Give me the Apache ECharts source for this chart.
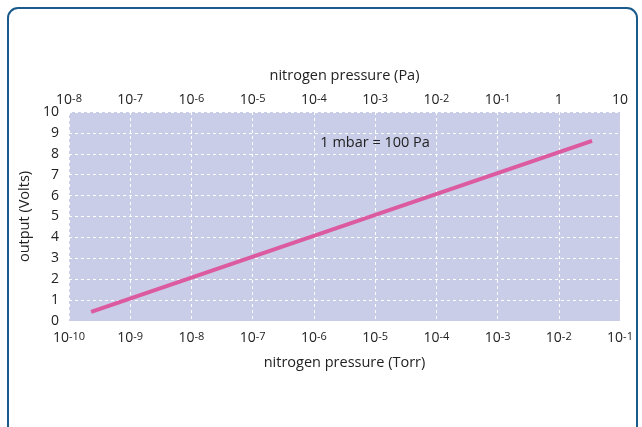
<!DOCTYPE html>
<html>
<head>
<meta charset="utf-8">
<script src="https://cdn.jsdelivr.net/npm/echarts@6/dist/echarts.min.js"></script>
<style>html,body{margin:0;padding:0;background:#fff}#c{width:642px;height:427px}</style>
</head>
<body>
<div id="c"></div>
<script>
// Data
const torrExponents = [-10, -9, -8, -7, -6, -5, -4, -3, -2, -1];
const torrTickLabels = ['10{s|-10}', '10{s|-9}', '10{s|-8}', '10{s|-7}', '10{s|-6}', '10{s|-5}', '10{s|-4}', '10{s|-3}', '10{s|-2}', '10{s|-1}'];
const paExponents = [-8, -7, -6, -5, -4, -3, -2, -1, 0, 1];
const paTickLabels = ['10{s|-8}', '10{s|-7}', '10{s|-6}', '10{s|-5}', '10{s|-4}', '10{s|-3}', '10{s|-2}', '10{s|-1}', '1', '10'];
const pressureTorr = [2.3e-10, 3.5e-2];
const outputVolts = [0.44, 8.62];
const annotationText = '1 mbar = 100 Pa';

const FONT = '"Open Sans", sans-serif';
const rich = {
  s: { fontSize: 11, fontFamily: FONT, color: '#222', verticalAlign: 'top', lineHeight: 11 }
};
function labelFor(exps, labels) {
  return function (v) {
    const e = Math.round(Math.log10(v));
    const i = exps.indexOf(e);
    return i >= 0 ? labels[i] : '';
  };
}
const nameStyle = { fontFamily: FONT, fontSize: 14.5, color: '#222' };

const chart = echarts.init(document.getElementById('c'), null, { renderer: 'canvas' });
chart.setOption({
  animation: false,
  backgroundColor: '#fff',
  grid: {
    left: 69, right: 22, top: 112, bottom: 106,
    show: true, backgroundColor: '#c9cde7', borderWidth: 0
  },
  graphic: [{
    type: 'rect', silent: true,
    shape: { x: 8, y: 8, width: 629, height: 440, r: 10 },
    style: { fill: null, stroke: '#1b5b8c', lineWidth: 2 }
  }],
  xAxis: [{
    type: 'log', logBase: 10, position: 'bottom',
    min: 1e-10, max: 1e-1, interval: 1,
    name: 'nitrogen pressure (Torr)', nameLocation: 'middle', nameGap: 34,
    nameTextStyle: nameStyle,
    axisLine: { show: false }, axisTick: { show: false },
    axisLabel: {
      margin: 10, fontFamily: FONT, fontSize: 14, color: '#222',
      formatter: labelFor(torrExponents, torrTickLabels), rich: rich,
      showMinLabel: true, showMaxLabel: true
    },
    splitLine: { show: true, lineStyle: { color: '#ffffff', type: [3, 3], width: 1 } }
  }, {
    type: 'log', logBase: 10, position: 'top',
    min: 1e-8, max: 10, interval: 1,
    name: 'nitrogen pressure (Pa)', nameLocation: 'middle', nameGap: 29,
    nameTextStyle: nameStyle,
    axisLine: { show: false }, axisTick: { show: false },
    axisLabel: {
      margin: 5, fontFamily: FONT, fontSize: 14, color: '#222',
      formatter: labelFor(paExponents, paTickLabels), rich: rich,
      showMinLabel: true, showMaxLabel: true
    },
    splitLine: { show: false }
  }],
  yAxis: {
    type: 'value', min: 0, max: 10, interval: 1,
    name: 'output (Volts)', nameLocation: 'middle', nameGap: 35, nameRotate: 90,
    nameTextStyle: nameStyle,
    axisLine: { show: false }, axisTick: { show: false },
    axisLabel: { margin: 10, fontFamily: FONT, fontSize: 14, color: '#222' },
    splitLine: { show: true, lineStyle: { color: '#ffffff', type: [3, 3], width: 1 } }
  },
  series: [{
    type: 'line', xAxisIndex: 0, yAxisIndex: 0,
    data: pressureTorr.map((p, i) => [p, outputVolts[i]]),
    showSymbol: false, symbol: 'none',
    lineStyle: { color: '#dc5a9f', width: 4, cap: 'butt' },
    markPoint: {
      symbol: 'rect', symbolSize: 0,
      label: { show: true, formatter: annotationText, fontFamily: FONT, fontSize: 14.5, color: '#222', position: 'inside' },
      data: [{ coord: [1e-5, 8.5] }]
    }
  }]
});
</script>
</body>
</html>
